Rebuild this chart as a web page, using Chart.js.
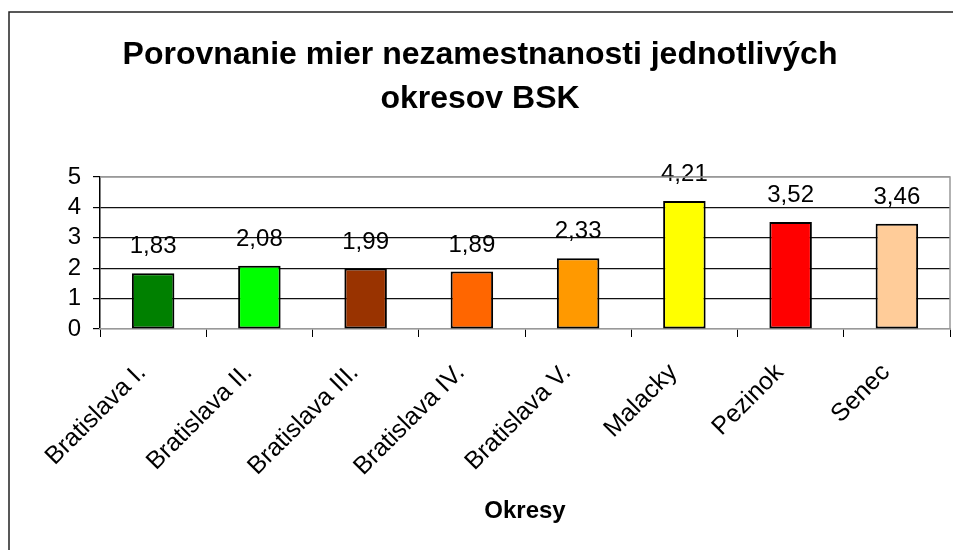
<!DOCTYPE html>
<html>
<head>
<meta charset="utf-8">
<script src="https://cdn.jsdelivr.net/npm/chart.js@4.4.0/dist/chart.umd.min.js"></script>
<style>
html,body{margin:0;padding:0;background:#fff;}
#wrap{width:954px;height:550px;position:relative;}
</style>
</head>
<body>
<div id="wrap"><canvas id="c" width="954" height="550"></canvas></div>
<script>
const titleLines = ["Porovnanie mier nezamestnanosti jednotlivých", "okresov BSK"];
const xAxisTitle = "Okresy";
const categories = ["Bratislava I.", "Bratislava II.", "Bratislava III.", "Bratislava IV.", "Bratislava V.", "Malacky", "Pezinok", "Senec"];
const values = [1.83, 2.08, 1.99, 1.89, 2.33, 4.21, 3.52, 3.46];
const valueLabels = ["1,83", "2,08", "1,99", "1,89", "2,33", "4,21", "3,52", "3,46"];
const barColors = ["#008000", "#00FF00", "#993300", "#FF6600", "#FF9900", "#FFFF00", "#FF0000", "#FFCC99"];
const yTicks = [0, 1, 2, 3, 4, 5];

const FONT = "'Liberation Sans', Arial, sans-serif";

const framePlugin = {
  id: 'frame',
  beforeDraw(chart) {
    const c = chart.ctx;
    c.save();
    c.fillStyle = '#fff';
    c.fillRect(0, 0, chart.width, chart.height);
    c.strokeStyle = '#222';
    c.lineWidth = 1.5;
    c.beginPath();
    c.moveTo(9, 552);
    c.lineTo(9, 12);
    c.lineTo(953, 12);
    c.stroke();
    c.restore();
  },
  afterDraw(chart) {
    const a = chart.chartArea;
    const c = chart.ctx;
    c.save();
    c.strokeStyle = '#999';
    c.lineWidth = 1.5;
    c.beginPath();
    c.moveTo(a.left, a.top);
    c.lineTo(a.right, a.top);
    c.lineTo(a.right, a.bottom);
    c.stroke();
    c.restore();
  }
};

const valueLabelPlugin = {
  id: 'valueLabels',
  afterDatasetsDraw(chart) {
    const c = chart.ctx;
    const meta = chart.getDatasetMeta(0);
    c.save();
    c.font = "24px " + FONT;
    c.fillStyle = '#000';
    c.textAlign = 'center';
    c.textBaseline = 'alphabetic';
    meta.data.forEach((bar, i) => {
      c.fillText(valueLabels[i], bar.x, bar.y - 20);
    });
    c.restore();
  }
};

new Chart(document.getElementById('c'), {
  type: 'bar',
  data: {
    labels: categories,
    datasets: [{
      data: values,
      backgroundColor: barColors,
      borderColor: '#000',
      borderWidth: 2,
      borderSkipped: false,
      categoryPercentage: 1.0,
      barPercentage: 0.4
    }]
  },
  options: {
    responsive: false,
    animation: false,
    devicePixelRatio: 1,
    layout: { padding: { top: 33, left: 10, right: 4, bottom: 0 } },
    plugins: {
      legend: { display: false },
      tooltip: { enabled: false },
      title: {
        display: true,
        text: titleLines,
        color: '#000',
        font: { family: FONT, size: 32, weight: 'bold', lineHeight: 1.375 },
        padding: { top: 0, bottom: 56 }
      }
    },
    scales: {
      y: {
        min: 0,
        max: 5,
        afterBuildTicks(scale) { scale.ticks = yTicks.map(v => ({ value: v })); },
        afterFit(scale) { scale.width = 90; },
        ticks: {
          color: '#000',
          font: { family: FONT, size: 24 },
          padding: 12,
          autoSkip: false,
          callback: (v) => String(v)
        },
        grid: {
          color: (ctx) => (ctx.tick && (ctx.tick.value === 5 || ctx.tick.value === 0)) ? '#999' : '#111',
          tickColor: '#000',
          tickLength: 7,
          lineWidth: 1.2
        },
        border: { color: '#000', width: 1.5 }
      },
      x: {
        afterFit(scale) { scale.height = 221; },
        ticks: {
          color: '#000',
          font: { family: FONT, size: 25 },
          maxRotation: 45,
          minRotation: 45,
          padding: 21,
          labelOffset: -11,
          autoSkip: false
        },
        grid: {
          drawOnChartArea: false,
          tickColor: '#000',
          tickLength: 8,
          offset: true
        },
        border: { color: '#999', width: 1.5 },
        title: {
          display: true,
          text: xAxisTitle,
          color: '#000',
          font: { family: FONT, size: 24, weight: 'bold', lineHeight: 1.2 },
          padding: { top: 0, bottom: 24 }
        }
      }
    }
  },
  plugins: [framePlugin, valueLabelPlugin]
});
</script>
</body>
</html>
